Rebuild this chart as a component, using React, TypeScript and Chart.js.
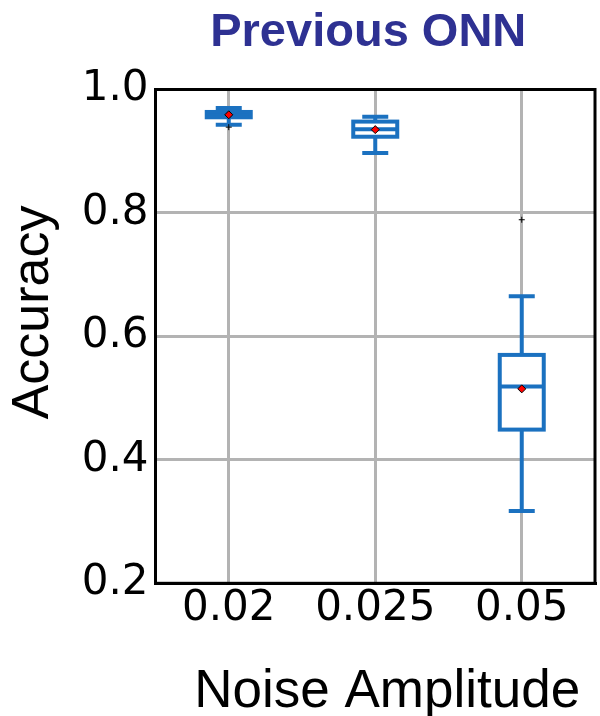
import React, { useEffect, useRef } from 'react';
import { Chart, registerables } from 'chart.js';

Chart.register(...registerables);

const categories = ['0.02', '0.025', '0.05'];
const whiskerLow = [0.943, 0.897, 0.317];
const q1 = [0.955, 0.9235, 0.449];
const medians = [0.96, 0.9355, 0.519];
const q3 = [0.9636, 0.948, 0.57];
const whiskerHigh = [0.97, 0.956, 0.665];
const means = [0.959, 0.935, 0.515];
const outliers: number[][] = [[0.939], [], [0.789]];
const yTicks = [0.2, 0.4, 0.6, 0.8, 1.0];

const titleText = 'Previous ONN';
const xTitle = 'Noise Amplitude';
const yTitle = 'Accuracy';

const BLUE = '#1b71c0';
const GRID = '#b3b3b3';

const boxPlugin = {
  id: 'boxDraw',
  afterDatasetDraw(chart: any, args: any) {
    if (args.index !== 0) return;
    const ctx = chart.ctx;
    const yScale = chart.scales.y;
    const meta = chart.getDatasetMeta(0);
    ctx.save();
    ctx.strokeStyle = BLUE;
    ctx.lineWidth = 4;
    ctx.lineCap = 'butt';
    ctx.lineJoin = 'miter';
    meta.data.forEach((bar: any, i: number) => {
      const { x, width } = bar.getProps(['x', 'width'], true);
      const half = width / 2;
      const capHalf = 13;
      const pQ1 = yScale.getPixelForValue(q1[i]);
      const pQ3 = yScale.getPixelForValue(q3[i]);
      const pMed = yScale.getPixelForValue(medians[i]);
      const pLo = yScale.getPixelForValue(whiskerLow[i]);
      const pHi = yScale.getPixelForValue(whiskerHigh[i]);
      ctx.beginPath();
      ctx.moveTo(x, pQ1);
      ctx.lineTo(x, pLo);
      ctx.moveTo(x, pQ3);
      ctx.lineTo(x, pHi);
      ctx.moveTo(x - capHalf, pLo);
      ctx.lineTo(x + capHalf, pLo);
      ctx.moveTo(x - capHalf, pHi);
      ctx.lineTo(x + capHalf, pHi);
      ctx.moveTo(x - half, pMed);
      ctx.lineTo(x + half, pMed);
      ctx.stroke();
      ctx.strokeRect(x - half, pQ3, width, pQ1 - pQ3);
    });
    ctx.restore();
  },
};

const decorPlugin = {
  id: 'decor',
  afterDraw(chart: any) {
    const ctx = chart.ctx;
    const a = chart.chartArea;
    ctx.save();
    ctx.strokeStyle = '#000';
    ctx.lineWidth = 3;
    ctx.strokeRect(a.left, a.top, a.right - a.left, a.bottom - a.top);

    ctx.fillStyle = '#2e3192';
    ctx.font = 'bold 47px "Liberation Sans", Arial, sans-serif';
    ctx.textAlign = 'center';
    ctx.textBaseline = 'alphabetic';
    ctx.fillText(titleText, (a.left + a.right) / 2 - 7, 46);

    ctx.fillStyle = '#000';
    ctx.font = '53px "Liberation Sans", Arial, sans-serif';
    ctx.fillText(xTitle, (a.left + a.right) / 2 + 12, 707);

    ctx.translate(48, (a.top + a.bottom) / 2 - 24);
    ctx.rotate(-Math.PI / 2);
    ctx.font = '52px "Liberation Sans", Arial, sans-serif';
    ctx.fillText(yTitle, 0, 0);
    ctx.restore();
  },
};

export default function App() {
  const ref = useRef<HTMLCanvasElement | null>(null);

  useEffect(() => {
    if (!ref.current) return;
    const outlierPoints: { x: string; y: number }[] = [];
    outliers.forEach((arr, i) => arr.forEach((v) => outlierPoints.push({ x: categories[i], y: v })));

    const chart = new Chart(ref.current, {
      type: 'bar',
      data: {
        labels: categories,
        datasets: [
          {
            type: 'bar',
            data: categories.map((_, i) => [q1[i], q3[i]]) as any,
            backgroundColor: '#ffffff',
            borderWidth: 0,
            barThickness: 44,
            order: 3,
          },
          {
            type: 'line',
            data: outlierPoints as any,
            showLine: false,
            pointStyle: 'cross',
            pointRadius: 3,
            pointBorderColor: '#000',
            pointBorderWidth: 1,
            order: 2,
          },
          {
            type: 'line',
            data: means,
            showLine: false,
            pointStyle: 'rectRot',
            pointRadius: 4,
            pointBackgroundColor: '#ff0000',
            pointBorderColor: '#000',
            pointBorderWidth: 1,
            order: 1,
          },
        ],
      },
      options: {
        responsive: false,
        animation: false,
        events: [],
        layout: { padding: { top: 89.5, right: 2, left: 0, bottom: 0 } },
        plugins: {
          legend: { display: false },
          tooltip: { enabled: false },
          title: { display: false },
        },
        scales: {
          x: {
            type: 'category',
            offset: true,
            grid: { offset: false, color: GRID, lineWidth: 3, drawTicks: false },
            border: { display: true, color: '#000', width: 3 },
            ticks: {
              color: '#000',
              padding: 1,
              font: { family: '"DejaVu Sans"', size: 42 },
              maxRotation: 0,
            },
            afterFit(scale: any) {
              scale.height = 716 - 583.3;
              scale.paddingLeft = 0;
              scale.paddingRight = 0;
            },
          },
          y: {
            type: 'linear',
            min: 0.2,
            max: 1.0,
            grid: { color: GRID, lineWidth: 3, drawTicks: false },
            border: { display: true, color: '#000', width: 3 },
            afterBuildTicks(scale: any) {
              scale.ticks = yTicks.map((v) => ({ value: v }));
            },
            ticks: {
              color: '#000',
              padding: 7,
              font: { family: '"DejaVu Sans"', size: 42 },
              callback: (v: any) => Number(v).toFixed(1),
            },
            afterFit(scale: any) {
              scale.width = 155.5;
              scale.paddingTop = 0;
              scale.paddingBottom = 0;
            },
          },
        },
      },
      plugins: [boxPlugin, decorPlugin],
    });
    return () => chart.destroy();
  }, []);

  return (
    <div style={{ position: 'absolute', left: 0, top: 0, width: 600, height: 716, background: '#fff' }}>
      <canvas ref={ref} width={600} height={716} />
    </div>
  );
}
